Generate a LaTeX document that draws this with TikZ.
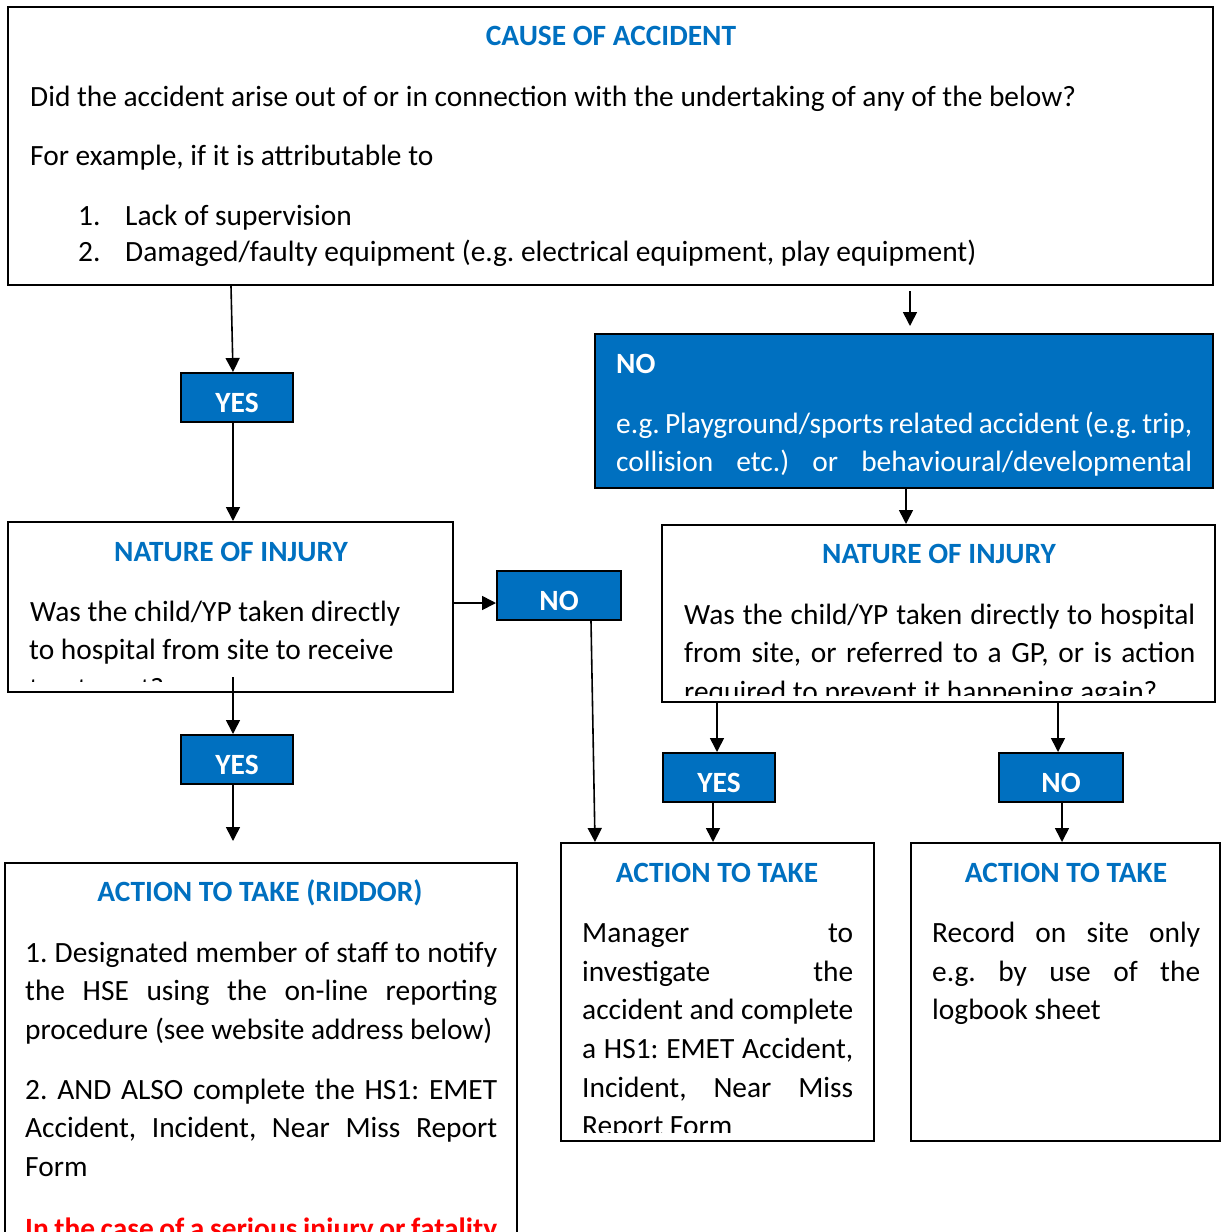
\documentclass[tikz,border=0pt]{standalone}
\usepackage{fontspec}
\setmainfont{Carlito}
\usetikzlibrary{arrows.meta}
\definecolor{hblue}{HTML}{0070C0}
\definecolor{hred}{HTML}{FF0000}
\newcommand\jl[2]{\makebox[#1pt][s]{#2}}
\frenchspacing
\begin{document}
\begin{tikzpicture}[x=1pt,y=-1pt,
 every node/.style={font=\fontsize{29.4}{38.5}\selectfont},
 box/.style={draw, line width=2pt, rectangle, inner sep=0pt},
 bbox/.style={box, fill=hblue, text=white, text height=30pt, text depth=0pt, font=\fontsize{29.4}{38.5}\selectfont\bfseries},
 txt/.style={anchor=base west, inner sep=0pt},
 ttl/.style={anchor=base, inner sep=0pt, text=hblue, font=\fontsize{29.4}{38.5}\selectfont\bfseries},
 arr/.style={line width=1.6pt, -{Triangle[length=14pt,width=14pt]}}]
\useasboundingbox (0,0) rectangle (1221,1232);

% boxes
\node[box, minimum width=1205pt, minimum height=278pt] (top) at (610.5,146) {};
\node[bbox, minimum width=112pt, minimum height=49pt] (yes1) at (237,397.5) {YES};
\node[box, fill=hblue, minimum width=618pt, minimum height=154pt] (noR) at (904,411) {};
\node[box, minimum width=445pt, minimum height=170pt] (natL) at (230.5,607) {};
\node[bbox, minimum width=124pt, minimum height=49pt] (noL) at (559,595.5) {NO};
\node[bbox, minimum width=112pt, minimum height=49pt] (yes2) at (237,759.5) {YES};
\node[box, minimum width=553pt, minimum height=177pt] (natR) at (938.5,613.5) {};
\node[bbox, minimum width=112pt, minimum height=49pt] (yes3) at (719,777.5) {YES};
\node[bbox, minimum width=124pt, minimum height=49pt] (no3) at (1061,777.5) {NO};
\node[box, minimum width=313pt, minimum height=298pt] (act1) at (717.5,992) {};
\node[box, minimum width=309pt, minimum height=298pt] (act2) at (1065.5,992) {};
\draw[line width=2pt] (5,1245) -- (5,863) -- (517,863) -- (517,1245);
\coordinate (r1) at (233,841);

% top box text
\node[ttl] (t1) at (611,45) {CAUSE OF ACCIDENT};
\node[txt] (t2) at (30,106) {Did the accident arise out of or in connection with the undertaking of any of the below?};
\node[txt] (t3) at (30,165) {For example, if it is attributable to};
\node[txt] (t4) at (78,225) {1.};
\node[txt] (t5) at (125,225) {Lack of supervision};
\node[txt] (t6) at (78,261) {2.};
\node[txt] (t7) at (125,261) {Damaged/faulty equipment (e.g. electrical equipment, play equipment)};

% blue NO box text
\node[txt, text=white, font=\fontsize{29.4}{38.5}\selectfont\bfseries] (b1) at (616,373) {NO};
\node[txt, text=white] (b2) at (616,433) {\jl{576}{e.g. Playground/sports related accident (e.g. trip,}};
\node[txt, text=white] (b3) at (616,471) {\jl{576}{collision etc.) or behavioural/developmental}};

% nature left
\node[ttl] (nl0) at (231,561) {NATURE OF INJURY};
\begin{scope}
\clip (9,523) rectangle (452,681);
\node[txt] (nl1) at (30,621) {Was the child/YP taken directly};
\node[txt] (nl2) at (29,659) {to hospital from site to receive};
\node[txt] (nl3) at (29,698) {treatment?};
\end{scope}

% nature right
\node[ttl] (nr0) at (939,563) {NATURE OF INJURY};
\begin{scope}
\clip (663,526) rectangle (1214,695);
\node[txt] (nr1) at (684,624) {\jl{511}{Was the child/YP taken directly to hospital}};
\node[txt] (nr2) at (684,662) {\jl{511}{from site, or referred to a GP, or is action}};
\node[txt] (nr3) at (684,701) {required to prevent it happening again?};
\end{scope}

% riddor
\node[ttl] (r0) at (260,901) {ACTION TO TAKE (RIDDOR)};
\begin{scope}
\clip (6,864) rectangle (516,1232);
\node[txt] (ra) at (25,962) {\jl{472}{1. Designated member of staff to notify}};
\node[txt] (rb) at (25,1000) {\jl{472}{the HSE using the on-line reporting}};
\node[txt] (rc) at (25,1039) {procedure (see website address below)};
\node[txt] (rd) at (25,1099) {\jl{472}{2. AND ALSO complete the HS1: EMET}};
\node[txt] (re) at (25,1137) {\jl{472}{Accident, Incident, Near Miss Report}};
\node[txt] (rf) at (25,1176) {Form};
\node[txt, text=hred, font=\fontsize{29.4}{38.5}\selectfont\bfseries] (rg) at (25,1238) {\jl{472}{In the case of a serious injury or fatality}};
\end{scope}

% action 1
\node[ttl] (a0) at (717,882) {ACTION TO TAKE};
\begin{scope}
\clip (562,844) rectangle (873,1132);
\node[txt] (a1) at (582,942) {\jl{271}{Manager to}};
\node[txt] (a2) at (582,981) {\jl{271}{investigate the}};
\node[txt] (a3) at (582,1019) {\jl{271}{accident and complete}};
\node[txt] (a4) at (582,1058) {\jl{271}{a HS1: EMET Accident,}};
\node[txt] (a5) at (582,1097) {\jl{271}{Incident, Near Miss}};
\node[txt] (a6) at (582,1135) {Report Form};
\end{scope}

% action 2
\node[ttl] (c0) at (1066,882) {ACTION TO TAKE};
\node[txt] (c1) at (932,942) {\jl{268}{Record on site only}};
\node[txt] (c2) at (932,981) {\jl{268}{e.g. by use of the}};
\node[txt] (c3) at (932,1019) {logbook sheet};

% connectors
\draw[arr] ([xshift=-379.5pt]top.south) -- ([xshift=-4pt]yes1.north);
\draw[arr] ([xshift=-4pt]yes1.south) -- ([xshift=2.5pt]natL.north);
\draw[arr] ([xshift=299.5pt,yshift=-5pt]top.south) -- ([xshift=6pt,yshift=7pt]noR.north);
\draw[arr] ([xshift=2pt]noR.south) -- ([xshift=-32.5pt]natR.north);
\draw[arr] ([yshift=4pt]natL.east) -- ([yshift=-7.5pt]noL.west);
\draw[arr] ([xshift=32pt]noL.south) -- ([xshift=-122.5pt]act1.north);
\draw[arr] ([xshift=2.5pt,yshift=16pt]natL.south) -- ([xshift=-4pt]yes2.north);
\draw[arr] ([xshift=-4pt]yes2.south) -- (r1);
\draw[arr] ([xshift=-221.5pt]natR.south) -- ([xshift=-2pt]yes3.north);
\draw[arr] ([xshift=119.5pt]natR.south) -- ([xshift=-3pt]no3.north);
\draw[arr] ([xshift=-6pt]yes3.south) -- ([xshift=-4.5pt]act1.north);
\draw[arr] ([xshift=1pt]no3.south) -- ([xshift=-3.5pt]act2.north);
\end{tikzpicture}
\end{document}
